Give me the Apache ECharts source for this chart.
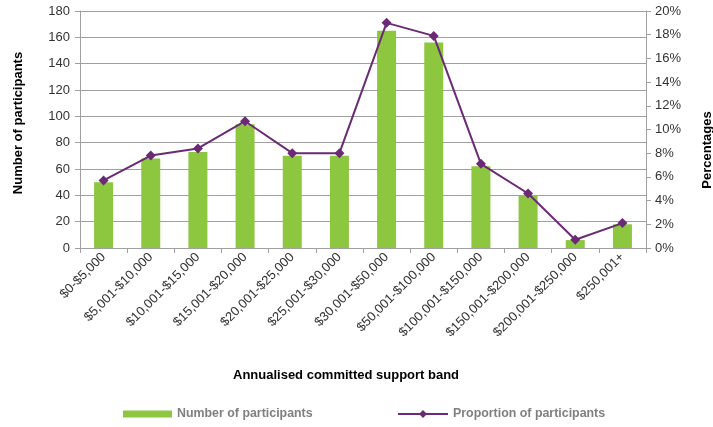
<!DOCTYPE html>
<html><head><meta charset="utf-8">
<script src="https://cdn.jsdelivr.net/npm/echarts@6/dist/echarts.min.js"></script>
<style>html,body{margin:0;padding:0;background:#fff}#c{width:713px;height:427px}</style>
</head><body><div id="c"></div>
<script>
const categories = ['$0-$5,000','$5,001-$10,000','$10,001-$15,000','$15,001-$20,000','$20,001-$25,000','$25,001-$30,000','$30,001-$50,000','$50,001-$100,000','$100,001-$150,000','$150,001-$200,000','$200,001-$250,000','$250,001+'];
const participants = [50, 68, 73, 94, 70, 70, 165, 156, 62, 40, 6, 18];
const proportion = [5.7, 7.8, 8.4, 10.7, 8.0, 8.0, 19.0, 17.9, 7.1, 4.6, 0.7, 2.1];
const leftTicks = {min: 0, max: 180, interval: 20};
const rightTicks = {min: 0, max: 20, interval: 2};

const FONT = '"Liberation Sans", Arial, sans-serif';
const chart = echarts.init(document.getElementById('c'), null, {renderer: 'canvas'});
chart.setOption({
  animation: false,
  textStyle: {fontFamily: FONT},
  grid: {left: 80, right: 67, top: 11, bottom: 179},
  legend: [
    {data: [{name: 'Number of participants', icon: 'rect'}], left: 123, top: 408, padding: 0, itemWidth: 49, itemHeight: 7, itemGap: 5,
     textStyle: {fontFamily: FONT, fontSize: 12.4, fontWeight: 'bold', color: '#808080'}},
    {data: ['Proportion of participants'], left: 397, top: 408, padding: 0, itemWidth: 50, itemHeight: 10, itemGap: 5,
     textStyle: {fontFamily: FONT, fontSize: 12.4, fontWeight: 'bold', color: '#808080'}}
  ],
  xAxis: {
    type: 'category', data: categories,
    axisLine: {lineStyle: {color: '#a0a0a0'}},
    axisTick: {show: true, length: 5, lineStyle: {color: '#a0a0a0'}},
    axisLabel: {rotate: 45, fontSize: 13, color: '#333', fontFamily: FONT, margin: 7, interval: 0}
  },
  yAxis: [
    {type: 'value', ...leftTicks,
     axisLine: {show: true, lineStyle: {color: '#a0a0a0'}},
     axisTick: {show: true, length: 5, lineStyle: {color: '#a0a0a0'}},
     axisLabel: {fontSize: 13, color: '#333', fontFamily: FONT, margin: 10},
     splitLine: {lineStyle: {color: '#a0a0a0', width: 1}}},
    {type: 'value', ...rightTicks, position: 'right',
     axisLine: {show: true, lineStyle: {color: '#a0a0a0'}},
     axisTick: {show: true, length: 5, lineStyle: {color: '#a0a0a0'}},
     axisLabel: {fontSize: 13, color: '#333', fontFamily: FONT, margin: 9, formatter: '{value}%'},
     splitLine: {show: false}}
  ],
  series: [
    {name: 'Number of participants', type: 'bar', data: participants, barWidth: 19,
     itemStyle: {color: '#8dc63f'}, yAxisIndex: 0},
    {name: 'Proportion of participants', type: 'line', data: proportion, yAxisIndex: 1,
     symbol: 'diamond', symbolSize: 10,
     lineStyle: {color: '#6b2a75', width: 2}, itemStyle: {color: '#6b2a75'}}
  ],
  graphic: [
    {type: 'text', left: 233, top: 369,
     style: {text: 'Annualised committed support band', fontFamily: FONT, fontSize: 13, fontWeight: 'bold', fill: '#000'}},
    {type: 'text', x: 18, y: 123, rotation: Math.PI / 2,
     style: {text: 'Number of participants', fontFamily: FONT, fontSize: 13, fontWeight: 'bold', fill: '#000', align: 'center', verticalAlign: 'middle'}},
    {type: 'text', x: 707, y: 150, rotation: Math.PI / 2,
     style: {text: 'Percentages', fontFamily: FONT, fontSize: 13, fontWeight: 'bold', fill: '#000', align: 'center', verticalAlign: 'middle'}}
  ]
});
</script></body></html>
